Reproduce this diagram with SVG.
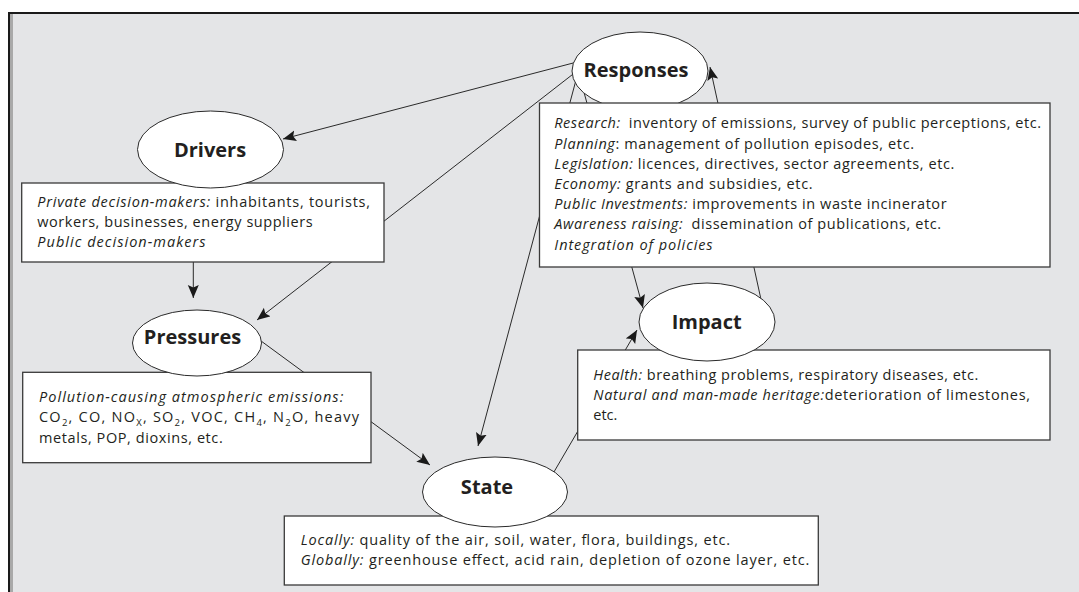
<svg xmlns="http://www.w3.org/2000/svg" width="1079" height="592" viewBox="0 0 1079 592">
<style>
.bg{fill:#e4e5e7}
.el{fill:#fff;stroke:#2a2a2a;stroke-width:1}
.box{fill:#fff;stroke:#3a3a3a;stroke-width:1.3}
.lbl{font-family:"Open Sans","Noto Sans",sans-serif;font-weight:700;font-size:20px;fill:#231f20;text-anchor:middle}
.txt{font-family:"Open Sans","Noto Sans",sans-serif;font-size:14.5px;fill:#231f20}
.it{font-style:italic}
.sub{font-size:9.5px}
.con{stroke:#2a2a2a;stroke-width:1;fill:none;marker-end:url(#ah)}
</style>
<defs>
<marker id="ah" markerUnits="userSpaceOnUse" markerWidth="14" markerHeight="12" refX="13" refY="5.5" orient="auto"><path d="M0,0 L13,5.5 L0,11 L2.5,5.5 Z" fill="#1a1a1a"/></marker>
</defs>
<rect x="0" y="0" width="1079" height="592" fill="#fff"/>
<rect class="bg" x="9" y="13" width="1070" height="579"/>
<rect x="10" y="14" width="3" height="578" fill="#a9a9a9"/>
<line x1="8" y1="13" x2="1079" y2="13" stroke="#1a1a1a" stroke-width="2"/>
<line x1="9" y1="12" x2="9" y2="592" stroke="#1a1a1a" stroke-width="2"/>
<g id="connectors">
<line class="con" x1="577" y1="62" x2="283" y2="139"/>
<line class="con" x1="577" y1="71" x2="257" y2="320"/>
<line class="con" x1="576" y1="80" x2="478" y2="446"/>
<line class="con" x1="582" y1="85" x2="643" y2="308"/>
<line class="con" x1="762" y1="304" x2="710" y2="67"/>
<line class="con" x1="193.3" y1="257" x2="193.3" y2="298"/>
<line class="con" x1="257" y1="338" x2="430" y2="465"/>
<line class="con" x1="551" y1="477" x2="637" y2="330"/>
</g>
<g id="responses">
<ellipse class="el" cx="640" cy="71" rx="68" ry="39"/>
<text class="lbl" x="636" y="77">Responses</text>
<rect class="box" x="539.5" y="103" width="510.5" height="164"/>
<text class="txt" x="554.3" y="128" textLength="486.7" lengthAdjust="spacing"><tspan class="it">Research:</tspan><tspan dx="4"> inventory of emissions, survey of public perceptions, etc.</tspan></text>
<text class="txt" x="554.3" y="149" textLength="359.7" lengthAdjust="spacing"><tspan class="it">Planning</tspan>: management of pollution episodes, etc.</text>
<text class="txt" x="554.3" y="169" textLength="400" lengthAdjust="spacing"><tspan class="it">Legislation:</tspan> licences, directives, sector agreements, etc.</text>
<text class="txt" x="554.3" y="189" textLength="258.3" lengthAdjust="spacing"><tspan class="it">Economy:</tspan> grants and subsidies, etc.</text>
<text class="txt" x="554.3" y="209" textLength="392.3" lengthAdjust="spacing"><tspan class="it">Public Investments:</tspan> improvements in waste incinerator</text>
<text class="txt" x="554.3" y="229" textLength="386.7" lengthAdjust="spacing"><tspan class="it">Awareness raising:</tspan><tspan dx="4"> dissemination of publications, etc.</tspan></text>
<text class="txt it" x="554.3" y="250" textLength="158.3" lengthAdjust="spacing">Integration of policies</text>
</g>
<g id="drivers">
<rect class="box" x="21.7" y="183" width="362.3" height="79"/>
<ellipse class="el" cx="210.5" cy="149.5" rx="73" ry="38.5"/>
<text class="lbl" x="210" y="156.5">Drivers</text>
<text class="txt" x="37.3" y="207" textLength="332.7" lengthAdjust="spacing"><tspan class="it">Private decision-makers:</tspan> inhabitants, tourists,</text>
<text class="txt" x="37.3" y="227" textLength="275.3" lengthAdjust="spacing">workers, businesses, energy suppliers</text>
<text class="txt it" x="37.3" y="247" textLength="168.3" lengthAdjust="spacing">Public decision-makers</text>
</g>
<g id="pressures">
<rect class="box" x="22.7" y="372.3" width="348.3" height="90.4"/>
<ellipse class="el" cx="197" cy="343" rx="64.5" ry="33"/>
<text class="lbl" x="192.5" y="344">Pressures</text>
<text class="txt it" x="39" y="402" textLength="304.3" lengthAdjust="spacing">Pollution-causing atmospheric emissions:</text>
<text class="txt" x="39" y="422" textLength="320" lengthAdjust="spacing">CO<tspan class="sub" dy="3.5">2</tspan><tspan dy="-3.5">, CO, NO</tspan><tspan class="sub" dy="3.5">X</tspan><tspan dy="-3.5">, SO</tspan><tspan class="sub" dy="3.5">2</tspan><tspan dy="-3.5">, VOC, CH</tspan><tspan class="sub" dy="3.5">4</tspan><tspan dy="-3.5">, N</tspan><tspan class="sub" dy="3.5">2</tspan><tspan dy="-3.5">O, heavy</tspan></text>
<text class="txt" x="39" y="443" textLength="183.7" lengthAdjust="spacing">metals, POP, dioxins, etc.</text>
</g>
<g id="state">
<rect class="box" x="284.3" y="516" width="534" height="69"/>
<ellipse class="el" cx="495" cy="492" rx="72.5" ry="35"/>
<text class="lbl" x="487" y="494">State</text>
<text class="txt" x="300.7" y="545" textLength="429.3" lengthAdjust="spacing"><tspan class="it">Locally:</tspan> quality of the air, soil, water, flora, buildings, etc.</text>
<text class="txt" x="300.7" y="565" textLength="508.6" lengthAdjust="spacing"><tspan class="it">Globally:</tspan> greenhouse effect, acid rain, depletion of ozone layer, etc.</text>
</g>
<g id="impact">
<rect class="box" x="577.7" y="350" width="472.3" height="90"/>
<ellipse class="el" cx="707" cy="322" rx="68" ry="39"/>
<text class="lbl" x="706.7" y="329">Impact</text>
<text class="txt" x="593.3" y="380" textLength="385" lengthAdjust="spacing"><tspan class="it">Health:</tspan> breathing problems, respiratory diseases, etc.</text>
<text class="txt" x="593.3" y="400" textLength="436.7" lengthAdjust="spacing"><tspan class="it">Natural and man-made heritage:</tspan>deterioration of limestones,</text>
<text class="txt" x="593.3" y="420">etc.</text>
</g>
</svg>
